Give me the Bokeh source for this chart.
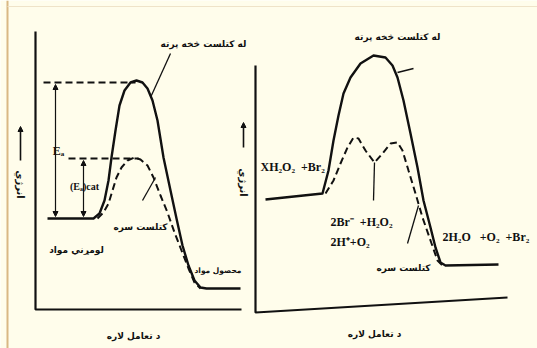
from bokeh.plotting import figure
from bokeh.models import Range1d, Arrow, NormalHead, ColumnDataSource
from bokeh.core.properties import value
from bokeh.embed import file_html
from bokeh.resources import INLINE
import math

# ---------------- data (image-pixel coordinates: x right, y down) ----------------
# Left diagram
L_axis_x = [35, 35, 241]
L_axis_y = [31, 309, 309]
L_solid_x = [47, 93, 99, 104, 108, 111, 115, 119, 124, 130, 136, 142, 147, 152, 157, 163, 170, 176, 182, 188, 194, 200, 206, 240]
L_solid_y = [218, 218, 213, 200, 180, 157, 130, 105, 90, 82, 80, 82, 88, 100, 120, 157, 190, 218, 245, 265, 280, 287, 288, 288]
L_dash_x = [97, 103, 108, 112, 116, 121, 127, 134, 140, 147, 153, 160, 167, 174, 181, 188, 194, 200]
L_dash_y = [218, 212, 203, 190, 177, 167, 160, 157, 159, 165, 177, 195, 212, 232, 250, 268, 282, 288]
L_ea_x = [43, 135]
L_ea_y = [82, 82]
L_eacat_x = [68, 138]
L_eacat_y = [158, 158]
L_lead1_x = [150, 170]
L_lead1_y = [97, 53]
L_lead2_x = [142, 155]
L_lead2_y = [200, 177]

# Right diagram
R_axis_x = [255, 255, 507]
R_axis_y = [65, 312, 297]
R_solid_x = [265, 322, 328, 333, 338, 343, 350, 360, 373, 385, 392, 397, 403, 410, 417, 423, 430, 435, 440, 445, 498]
R_solid_y = [199, 193, 170, 140, 115, 93, 77, 63, 55, 57, 65, 77, 100, 133, 167, 200, 227, 247, 262, 265, 264]
R_dash_x = [325, 333, 340, 347, 353, 358, 365, 374, 382, 390, 397, 402, 408, 415, 422, 430, 437, 442]
R_dash_y = [193, 180, 163, 147, 137, 138, 150, 162, 153, 143, 142, 150, 170, 193, 217, 240, 260, 265]
R_lead1_x = [397, 413]
R_lead1_y = [72, 68]
R_lead2_x = [374, 373]
R_lead2_y = [162, 200]
R_lead3_x = [418, 407]
R_lead3_y = [205, 243]

# Double-headed energy arrows (x, y_top, y_bottom)
ea_arrows_x = [55, 83]
ea_arrows_top = [84, 160]
ea_arrows_bot = [216, 216]
# Y-axis arrows (x, y_from, y_to)
yarrow_x = [20, 243]
yarrow_from = [160, 147]
yarrow_to = [126, 122]

# Labels
pashto_text = ["له کتلست څخه پرته", "کتلست سره", "لومړني مواد", "د تعامل لاره",
               "له کتلست څخه پرته", "کتلست سره", "د تعامل لاره"]
pashto_x = [203, 140, 76, 133, 397, 403, 374]
pashto_y = [43, 226, 249, 335, 36, 267, 333]

prod_text = ["محصول مواد"]
prod_x = [241]
prod_y = [270]

ylab_text = ["انرژي", "انرژي"]
ylab_x = [20, 243]
ylab_y = [184, 182]

NB = "\u00A0"
chem_text = ["XH₂O₂" + NB * 2 + "+Br₂", "2Br⁻" + NB * 2 + "+H₂O₂", "2H⁺+O₂",
             "2H₂O" + NB * 3 + "+O₂" + NB * 2 + "+Br₂"]
chem_x = [260, 330, 330, 442]
chem_y = [166, 221, 241, 236]

ea_text = ["Eₐ"]
ea_x = [58]
ea_y = [150]
eacat_text = ["(Eₐ)cat"]
eacat_x = [84]
eacat_y = [186]

# ---------------- drawing ----------------
BG = "#FFFDEB"
INK = "#111111"

p = figure(width=537, height=348, output_backend="svg", toolbar_location=None,
           x_range=Range1d(0, 537), y_range=Range1d(348, 0),
           min_border=0, background_fill_color=BG, border_fill_color=BG)
p.axis.visible = False
p.grid.visible = False
p.outline_line_color = None

# frame edge lines
p.line(x=[7, 7], y=[0, 348], line_color="#D9B884", line_width=2)
p.line(x=[7, 537], y=[6, 6], line_color="#EFE3C8", line_width=1)

for xs, ys in [(L_axis_x, L_axis_y), (R_axis_x, R_axis_y)]:
    p.line(x=xs, y=ys, line_color=INK, line_width=2.2)

for xs, ys in [(L_solid_x, L_solid_y), (R_solid_x, R_solid_y)]:
    p.line(x=xs, y=ys, line_color=INK, line_width=2.4, line_join="round")

for xs, ys in [(L_dash_x, L_dash_y), (R_dash_x, R_dash_y),
               (L_ea_x, L_ea_y), (L_eacat_x, L_eacat_y)]:
    p.line(x=xs, y=ys, line_color=INK, line_width=2, line_dash="7 4")

for xs, ys in [(L_lead1_x, L_lead1_y), (L_lead2_x, L_lead2_y),
               (R_lead1_x, R_lead1_y), (R_lead2_x, R_lead2_y), (R_lead3_x, R_lead3_y)]:
    p.line(x=xs, y=ys, line_color=INK, line_width=1.3)

for i in range(len(ea_arrows_x)):
    p.add_layout(Arrow(x_start=ea_arrows_x[i], y_start=ea_arrows_top[i],
                       x_end=ea_arrows_x[i], y_end=ea_arrows_bot[i],
                       line_color=INK, line_width=1.2,
                       start=NormalHead(size=5, fill_color=INK, line_color=INK),
                       end=NormalHead(size=5, fill_color=INK, line_color=INK)))

for i in range(len(yarrow_x)):
    p.add_layout(Arrow(x_start=yarrow_x[i], y_start=yarrow_from[i],
                       x_end=yarrow_x[i], y_end=yarrow_to[i],
                       line_color=INK, line_width=1.6,
                       end=NormalHead(size=5, fill_color=INK, line_color=INK)))

src_p = ColumnDataSource(dict(x=pashto_x, y=pashto_y, t=pashto_text))
p.text(x="x", y="y", text="t", source=src_p, text_font=value("DejaVu Sans"),
       text_font_style="bold", text_font_size="9px", text_color=INK,
       text_align="center", text_baseline="middle")

src_pr = ColumnDataSource(dict(x=prod_x, y=prod_y, t=prod_text))
p.text(x="x", y="y", text="t", source=src_pr, text_font=value("DejaVu Sans"),
       text_font_style="bold", text_font_size="7.5px", text_color=INK,
       text_align="right", text_baseline="middle")

src_y = ColumnDataSource(dict(x=ylab_x, y=ylab_y, t=ylab_text))
p.text(x="x", y="y", text="t", source=src_y, text_font=value("DejaVu Sans"),
       text_font_style="bold", text_font_size="10px", text_color=INK,
       text_align="center", text_baseline="middle", angle=-math.pi / 2)

src_c = ColumnDataSource(dict(x=chem_x, y=chem_y, t=chem_text))
p.text(x="x", y="y", text="t", source=src_c, text_font=value("Liberation Serif"),
       text_font_style="bold", text_font_size="12px", text_color=INK,
       text_align="left", text_baseline="middle")

src_e = ColumnDataSource(dict(x=ea_x, y=ea_y, t=ea_text))
p.text(x="x", y="y", text="t", source=src_e, text_font=value("Liberation Serif"),
       text_font_style="bold", text_font_size="12px", text_color=INK,
       text_align="center", text_baseline="middle")

src_ec = ColumnDataSource(dict(x=eacat_x, y=eacat_y, t=eacat_text))
p.text(x="x", y="y", text="t", source=src_ec, text_font=value("Liberation Serif"),
       text_font_style="bold", text_font_size="10px", text_color=INK,
       text_align="center", text_baseline="middle")

html = file_html(p, INLINE)
html = html.replace("<body>", '<body style="background:%s">' % BG, 1)
open("out.html", "w").write(html)
